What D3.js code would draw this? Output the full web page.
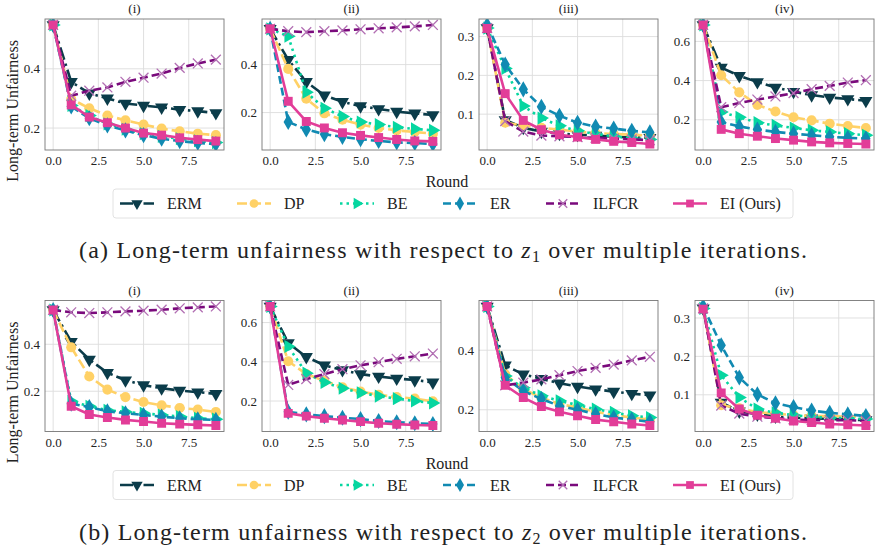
<!DOCTYPE html>
<html>
<head>
<meta charset="utf-8">
<script src="https://cdn.jsdelivr.net/npm/d3@7"></script>
<style>
  body { margin: 0; background: #fff; }
  svg text { font-family: "Liberation Serif", "Times New Roman", "DejaVu Serif", serif !important; fill: #222; }
</style>
</head>
<body>
<script>
// rounds on the x axis
let rounds = [0, 1, 2, 3, 4, 5, 6, 7, 8, 9];
let methods = ["ERM", "DP", "BE", "ER", "ILFCR", "EI (Ours)"];
let panelTitles = ["(i)", "(ii)", "(iii)", "(iv)"];
let xTicks = [0, 2.5, 5, 7.5];

// series order in every panel: ERM, DP, BE, ER, ILFCR, EI
// (a) unfairness w.r.t. z1
let z1_i = [
  [0.548, 0.356, 0.317, 0.300, 0.283, 0.276, 0.270, 0.262, 0.257, 0.251],
  [0.548, 0.298, 0.267, 0.242, 0.226, 0.212, 0.198, 0.189, 0.181, 0.176],
  [0.548, 0.276, 0.242, 0.214, 0.196, 0.181, 0.172, 0.164, 0.157, 0.151],
  [0.548, 0.273, 0.233, 0.209, 0.192, 0.176, 0.164, 0.156, 0.150, 0.146],
  [0.548, 0.309, 0.326, 0.337, 0.356, 0.370, 0.384, 0.403, 0.418, 0.431],
  [0.548, 0.278, 0.237, 0.218, 0.200, 0.183, 0.176, 0.167, 0.161, 0.156]
];
let z1_ii = [
  [0.549, 0.420, 0.328, 0.272, 0.245, 0.227, 0.215, 0.204, 0.197, 0.190],
  [0.549, 0.382, 0.258, 0.197, 0.170, 0.150, 0.136, 0.126, 0.119, 0.112],
  [0.549, 0.518, 0.285, 0.218, 0.184, 0.161, 0.150, 0.139, 0.132, 0.126],
  [0.549, 0.161, 0.130, 0.110, 0.099, 0.089, 0.082, 0.076, 0.073, 0.069],
  [0.549, 0.539, 0.535, 0.539, 0.542, 0.547, 0.551, 0.555, 0.559, 0.565],
  [0.549, 0.247, 0.163, 0.136, 0.116, 0.105, 0.096, 0.088, 0.082, 0.080]
];
let z1_iii = [
  [0.322, 0.085, 0.065, 0.055, 0.050, 0.047, 0.045, 0.042, 0.040, 0.039],
  [0.322, 0.078, 0.071, 0.065, 0.060, 0.055, 0.051, 0.049, 0.047, 0.045],
  [0.322, 0.218, 0.121, 0.090, 0.070, 0.057, 0.049, 0.043, 0.038, 0.035],
  [0.330, 0.228, 0.164, 0.119, 0.096, 0.078, 0.068, 0.063, 0.057, 0.053],
  [0.322, 0.082, 0.055, 0.045, 0.043, 0.041, 0.039, 0.037, 0.035, 0.033],
  [0.321, 0.153, 0.084, 0.060, 0.047, 0.041, 0.035, 0.030, 0.027, 0.023]
];
let z1_iv = [
  [0.684, 0.466, 0.424, 0.393, 0.365, 0.343, 0.326, 0.314, 0.306, 0.297],
  [0.684, 0.427, 0.340, 0.276, 0.242, 0.213, 0.197, 0.180, 0.168, 0.158],
  [0.684, 0.239, 0.213, 0.185, 0.171, 0.158, 0.146, 0.138, 0.129, 0.121],
  [0.684, 0.188, 0.166, 0.150, 0.138, 0.129, 0.121, 0.113, 0.108, 0.104],
  [0.684, 0.264, 0.286, 0.303, 0.319, 0.336, 0.356, 0.373, 0.390, 0.402],
  [0.684, 0.151, 0.129, 0.116, 0.104, 0.096, 0.087, 0.082, 0.079, 0.076]
];
// (b) unfairness w.r.t. z2
let z2_i = [
  [0.546, 0.411, 0.335, 0.279, 0.247, 0.226, 0.213, 0.203, 0.196, 0.189],
  [0.546, 0.387, 0.263, 0.207, 0.175, 0.154, 0.140, 0.129, 0.122, 0.112],
  [0.546, 0.157, 0.136, 0.119, 0.112, 0.106, 0.099, 0.092, 0.085, 0.081],
  [0.546, 0.147, 0.133, 0.115, 0.106, 0.099, 0.092, 0.085, 0.081, 0.078],
  [0.546, 0.536, 0.533, 0.536, 0.540, 0.543, 0.547, 0.553, 0.557, 0.561],
  [0.546, 0.136, 0.101, 0.088, 0.078, 0.071, 0.064, 0.060, 0.057, 0.054]
];
let z2_ii = [
  [0.682, 0.495, 0.425, 0.382, 0.358, 0.337, 0.325, 0.315, 0.307, 0.295],
  [0.682, 0.403, 0.337, 0.303, 0.270, 0.248, 0.232, 0.220, 0.212, 0.198],
  [0.682, 0.478, 0.342, 0.295, 0.265, 0.242, 0.225, 0.212, 0.200, 0.190],
  [0.682, 0.145, 0.132, 0.123, 0.115, 0.108, 0.098, 0.092, 0.087, 0.083],
  [0.682, 0.282, 0.312, 0.337, 0.362, 0.382, 0.398, 0.415, 0.428, 0.442],
  [0.682, 0.137, 0.123, 0.112, 0.103, 0.095, 0.087, 0.082, 0.078, 0.075]
];
let z2_iii = [
  [0.547, 0.349, 0.319, 0.304, 0.289, 0.278, 0.269, 0.261, 0.254, 0.249],
  [0.547, 0.319, 0.269, 0.241, 0.219, 0.208, 0.193, 0.182, 0.174, 0.167],
  [0.547, 0.313, 0.274, 0.247, 0.230, 0.216, 0.202, 0.191, 0.180, 0.174],
  [0.547, 0.308, 0.263, 0.236, 0.213, 0.200, 0.186, 0.174, 0.167, 0.160],
  [0.547, 0.282, 0.291, 0.302, 0.316, 0.330, 0.341, 0.352, 0.366, 0.378],
  [0.547, 0.282, 0.241, 0.211, 0.193, 0.180, 0.167, 0.160, 0.152, 0.147]
];
let z2_iv = [
  [0.325, 0.080, 0.057, 0.049, 0.044, 0.040, 0.039, 0.037, 0.036, 0.034],
  [0.325, 0.073, 0.065, 0.055, 0.051, 0.047, 0.045, 0.045, 0.043, 0.043],
  [0.325, 0.151, 0.093, 0.063, 0.053, 0.047, 0.043, 0.040, 0.039, 0.037],
  [0.330, 0.229, 0.145, 0.101, 0.078, 0.068, 0.059, 0.053, 0.049, 0.045],
  [0.325, 0.072, 0.051, 0.043, 0.039, 0.036, 0.034, 0.034, 0.034, 0.032],
  [0.323, 0.105, 0.063, 0.047, 0.039, 0.032, 0.028, 0.024, 0.022, 0.020]
];

// y tick labels per panel
let yTicks_z1 = [[0.2, 0.4], [0.2, 0.4], [0.1, 0.2, 0.3], [0.2, 0.4, 0.6]];
let yTicks_z2 = [[0.2, 0.4], [0.2, 0.4, 0.6], [0.2, 0.4], [0.1, 0.2, 0.3]];

// styling
let colors = ["#0b3c4a", "#ffd166", "#06d6a0", "#118ab2", "#7a0a7c", "#e23d98"];
let dashes = ["13,4,2.5,4", "10,4", "2.5,4", "8,4", "8,4", null];
let symbols = ["tridown", "circle", "triright", "diamond", "x", "square"];

let svgWidth = 875;
let svgHeight = 546;

let svg = d3.select("body")
  .append("svg")
  .attr("width", svgWidth)
  .attr("height", svgHeight)
  .style("font-family", "'Liberation Serif', serif");

let panelLefts = [45, 262, 479, 695];
let panelWidth = 179;
let panelHeight = 131;

let xScale = d3.scaleLinear().domain([-0.45, 9.45]).range([0, panelWidth]);

function markerPath(kind, size) {
  if (kind === "circle") return d3.symbol(d3.symbolCircle, size)();
  if (kind === "square") return d3.symbol(d3.symbolSquare, size)();
  if (kind === "diamond") return d3.symbol(d3.symbolDiamond, size)();
  if (kind === "x") return d3.symbol(d3.symbolX, size)();
  return d3.symbol(d3.symbolTriangle, size)();
}
function markerRotate(kind) {
  if (kind === "tridown") return 180;
  if (kind === "triright") return 90;
  return 0;
}
let markerSize = [75, 80, 75, 75, 65, 80];

function drawMarkers(g, k, pts, scale) {
  let kind = symbols[k];
  g.selectAll(null)
    .data(pts)
    .enter()
    .append("path")
    .attr("d", markerPath(kind, markerSize[k] * scale))
    .attr("transform", d => `translate(${d[0]},${d[1]}) rotate(${markerRotate(kind)})`)
    .attr("fill", kind === "x" ? "none" : colors[k])
    .attr("stroke", kind === "x" ? "#b26fb3" : "none")
    .attr("stroke-width", 1.3);
}

function drawPanel(left, top, series, yTicks, title) {
  let g = svg.append("g").attr("transform", `translate(${left},${top})`);
  let all = series.flat();
  let lo = d3.min(all), hi = d3.max(all);
  let pad = (hi - lo) * 0.05;
  let yScale = d3.scaleLinear().domain([lo - pad, hi + pad]).range([panelHeight, 0]);

  // grid
  g.selectAll(null).data(xTicks).enter().append("line")
    .attr("x1", d => xScale(d)).attr("x2", d => xScale(d))
    .attr("y1", 0).attr("y2", panelHeight)
    .attr("stroke", "#dddddd").attr("stroke-width", 0.9);
  g.selectAll(null).data(yTicks).enter().append("line")
    .attr("x1", 0).attr("x2", panelWidth)
    .attr("y1", d => yScale(d)).attr("y2", d => yScale(d))
    .attr("stroke", "#dddddd").attr("stroke-width", 0.9);

  // axes (labels only)
  let xAxis = g.append("g")
    .attr("transform", `translate(0,${panelHeight})`)
    .call(d3.axisBottom(xScale).tickValues(xTicks).tickFormat(d3.format(".1f")).tickSize(0).tickPadding(6));
  let yAxis = g.append("g")
    .call(d3.axisLeft(yScale).tickValues(yTicks).tickFormat(d3.format(".1f")).tickSize(0).tickPadding(5));
  [xAxis, yAxis].forEach(a => {
    a.attr("font-family", null);
    a.select(".domain").remove();
    a.selectAll("text").attr("font-size", 13).attr("fill", "#333");
  });

  let clip = "clip" + left + "_" + top;
  g.append("clipPath").attr("id", clip).append("rect")
    .attr("width", panelWidth).attr("height", panelHeight);
  let plot = g.append("g").attr("clip-path", `url(#${clip})`);

  let line = d3.line().x((d, i) => xScale(rounds[i])).y(d => yScale(d));
  series.forEach((vals, k) => {
    plot.append("path")
      .attr("d", line(vals))
      .attr("fill", "none")
      .attr("stroke", colors[k])
      .attr("stroke-width", 2.6)
      .attr("stroke-dasharray", dashes[k]);
    drawMarkers(plot.append("g"), k, vals.map((v, i) => [xScale(rounds[i]), yScale(v)]), 1);
  });

  // frame
  g.append("rect")
    .attr("width", panelWidth).attr("height", panelHeight)
    .attr("fill", "none").attr("stroke", "#777").attr("stroke-width", 0.9);

  g.append("text")
    .attr("x", panelWidth / 2).attr("y", -6)
    .attr("text-anchor", "middle").attr("font-size", 13)
    .text(title);
}

let legendItems = [120, 237, 340, 443, 546, 673];

function drawRow(offset, panels, yTicks, letter, sub) {
  panels.forEach((p, i) => drawPanel(panelLefts[i], 19 + offset, p, yTicks[i], panelTitles[i]));

  svg.append("text")
    .attr("transform", `translate(18,${111 + offset}) rotate(-90)`)
    .attr("text-anchor", "middle").attr("font-size", 16)
    .text("Long-term Unfairness");

  svg.append("text")
    .attr("x", 447).attr("y", 187 + offset)
    .attr("text-anchor", "middle").attr("font-size", 16)
    .text("Round");

  // legend
  let lg = svg.append("g");
  lg.append("rect")
    .attr("x", 113).attr("y", 189 + offset)
    .attr("width", 680).attr("height", 29)
    .attr("rx", 3).attr("fill", "#fff")
    .attr("stroke", "#e2e2e2").attr("stroke-width", 1);
  methods.forEach((m, k) => {
    let x0 = legendItems[k], y0 = 203.5 + offset;
    lg.append("line")
      .attr("x1", x0).attr("x2", x0 + 34)
      .attr("y1", y0).attr("y2", y0)
      .attr("stroke", colors[k]).attr("stroke-width", 2.6)
      .attr("stroke-dasharray", dashes[k]);
    drawMarkers(lg.append("g"), k, [[x0 + 17, y0]], 0.75);
    lg.append("text")
      .attr("x", x0 + 47).attr("y", y0 + 5.5)
      .attr("font-size", 16)
      .text(m);
  });

  // caption
  let cap = svg.append("text")
    .attr("x", 443).attr("y", 258 + offset)
    .attr("text-anchor", "middle").attr("font-size", 24)
    .attr("textLength", 728)
    .attr("lengthAdjust", "spacing");
  cap.append("tspan").text(`(${letter}) Long-term unfairness with respect to `);
  cap.append("tspan").attr("font-style", "italic").text("z");
  cap.append("tspan").attr("font-size", 16).attr("dy", 4).text(sub);
  cap.append("tspan").attr("dy", -4).text(" over multiple iterations.");
}

drawRow(0, [z1_i, z1_ii, z1_iii, z1_iv], yTicks_z1, "a", "1");
drawRow(281.5, [z2_i, z2_ii, z2_iii, z2_iv], yTicks_z2, "b", "2");
</script>
</body>
</html>
